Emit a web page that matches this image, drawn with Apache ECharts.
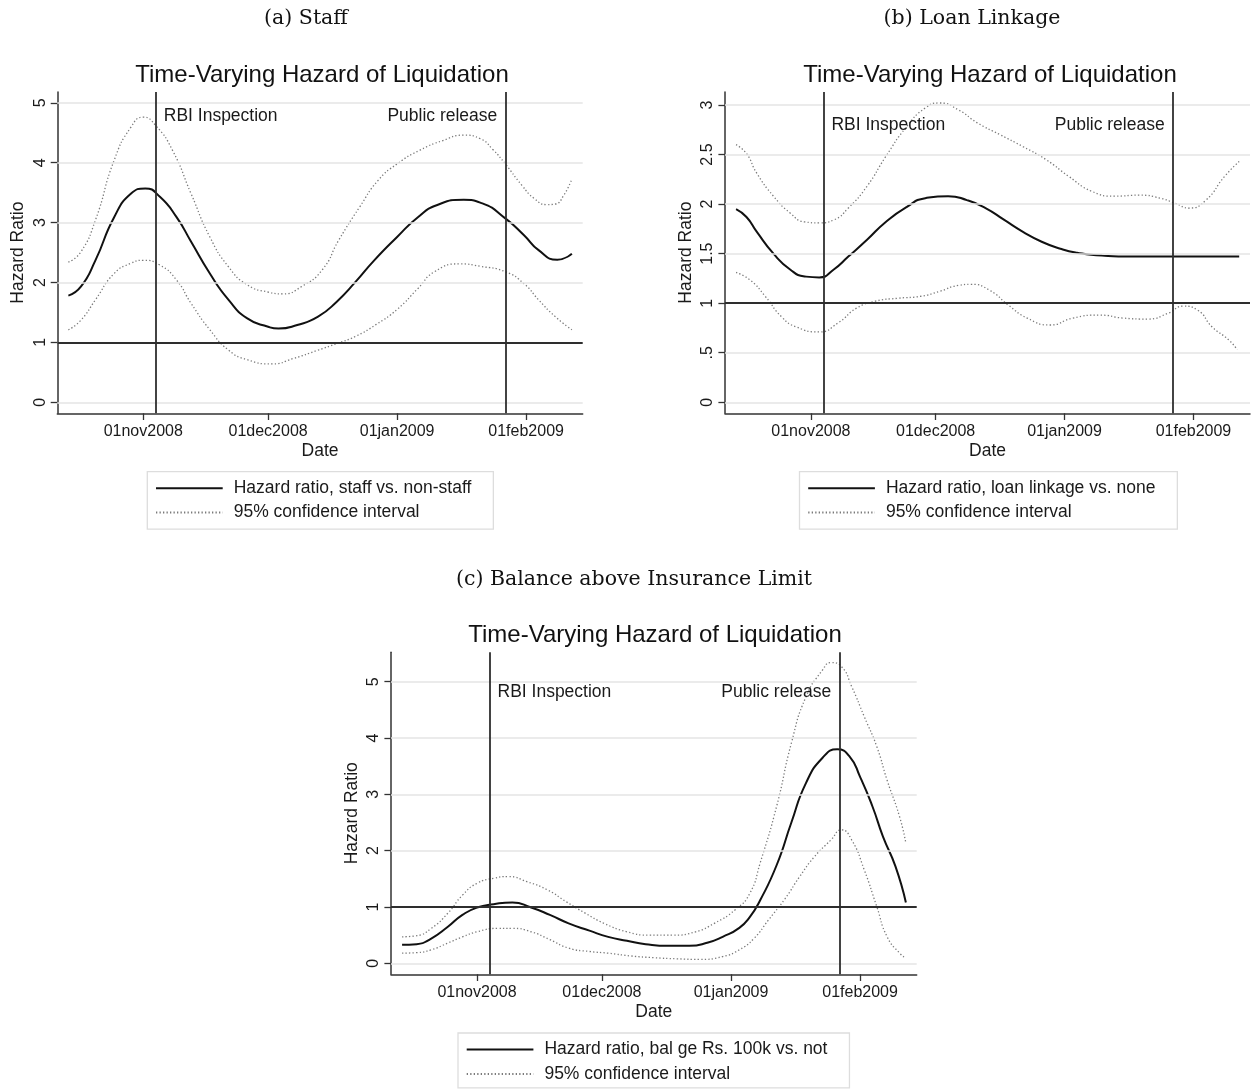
<!DOCTYPE html>
<html>
<head>
<meta charset="utf-8">
<script src="https://cdn.jsdelivr.net/npm/echarts@6/dist/echarts.min.js"></script>
<style>
html,body{margin:0;padding:0;background:#ffffff;}
#chart{width:1254px;height:1090px;}
</style>
</head>
<body>
<div id="chart"></div>
<script>
// ---------------- data ----------------
const panelTitles = ["(a) Staff", "(b) Loan Linkage", "(c) Balance above Insurance Limit"];
const chartTitle = "Time-Varying Hazard of Liquidation";
const xAxisTitle = "Date";
const yAxisTitle = "Hazard Ratio";
const xTickDates = ["2008-11-01", "2008-12-01", "2009-01-01", "2009-02-01"];
const eventDates = ["2008-11-04", "2009-01-27"];
const eventLabels = ["RBI Inspection", "Public release"];
const referenceLevel = 1;
const yTicksA = [0, 1, 2, 3, 4, 5];
const yTicksB = [0, 0.5, 1, 1.5, 2, 2.5, 3];
const yTicksC = [0, 1, 2, 3, 4, 5];
const hazardNames = [
  "Hazard ratio, staff vs. non-staff",
  "Hazard ratio, loan linkage vs. none",
  "Hazard ratio, bal ge Rs. 100k vs. not"
];
const ciName = "95% confidence interval";

// (a) Staff
const staffHR = [
  ["2008-10-14",1.78],["2008-10-17",1.93],["2008-10-20T12",2.37],["2008-10-25",3.09],
  ["2008-10-29",3.48],["2008-11-01T12",3.57],["2008-11-05",3.43],["2008-11-09",3.09],
  ["2008-11-12T12",2.68],["2008-11-17",2.15],["2008-11-21T12",1.71],["2008-11-26",1.40],
  ["2008-12-01",1.26],["2008-12-03T12",1.23],["2008-12-08",1.29],["2008-12-13",1.43],
  ["2008-12-17T12",1.68],["2008-12-22",2.01],["2008-12-26T12",2.37],["2009-01-01",2.76],
  ["2009-01-06",3.09],["2009-01-10T12",3.29],["2009-01-17",3.38],["2009-01-21T12",3.32],
  ["2009-01-27",3.07],["2009-01-31T12",2.79],["2009-02-04",2.54],["2009-02-08T12",2.38],
  ["2009-02-12",2.48]
];
const staffUpper = [
  ["2008-10-14",2.34],["2008-10-17",2.51],["2008-10-20T12",3.04],["2008-10-25",4.04],
  ["2008-10-29",4.59],["2008-11-01",4.76],["2008-11-04",4.62],["2008-11-08",4.21],
  ["2008-11-12T12",3.48],["2008-11-17",2.76],["2008-11-21T12",2.26],["2008-11-26",1.96],
  ["2008-12-01",1.84],["2008-12-04T12",1.81],["2008-12-09",1.93],["2008-12-14",2.21],
  ["2008-12-18",2.71],["2008-12-23",3.26],["2008-12-27T12",3.71],["2009-01-01",3.98],
  ["2009-01-06T12",4.21],["2009-01-12",4.37],["2009-01-17",4.46],["2009-01-21",4.40],
  ["2009-01-24",4.22],["2009-01-27",3.98],["2009-01-31",3.62],["2009-02-03",3.40],
  ["2009-02-06",3.30],["2009-02-08",3.31],["2009-02-10",3.45],["2009-02-12",3.73]
];
const staffLower = [
  ["2008-10-14",1.21],["2008-10-17",1.37],["2008-10-20T12",1.71],["2008-10-25",2.15],
  ["2008-10-29",2.32],["2008-11-01",2.37],["2008-11-05",2.29],["2008-11-09",2.04],
  ["2008-11-12T12",1.65],["2008-11-17",1.21],["2008-11-21T12",0.87],["2008-11-26",0.71],
  ["2008-12-02",0.64],["2008-12-07",0.73],["2008-12-13",0.87],["2008-12-17T12",0.98],
  ["2008-12-22",1.10],["2008-12-27",1.30],["2009-01-01",1.55],["2009-01-06",1.90],
  ["2009-01-10",2.18],["2009-01-16",2.31],["2009-01-21",2.27],["2009-01-27",2.18],
  ["2009-01-31T12",1.98],["2009-02-04",1.71],["2009-02-08",1.43],["2009-02-12",1.21]
];

// (b) Loan linkage
const loanHR = [
  ["2008-10-14",1.95],["2008-10-16T12",1.87],["2008-10-19",1.72],["2008-10-23",1.50],
  ["2008-10-27",1.34],["2008-10-30T12",1.27],["2008-11-03",1.26],["2008-11-06T12",1.34],
  ["2008-11-10",1.47],["2008-11-14T12",1.64],["2008-11-19",1.82],["2008-11-24",1.97],
  ["2008-11-28T12",2.06],["2008-12-04",2.08],["2008-12-08T12",2.04],["2008-12-13",1.96],
  ["2008-12-17T12",1.84],["2008-12-22",1.72],["2008-12-26T12",1.62],["2008-12-31",1.55],
  ["2009-01-04",1.51],["2009-01-10",1.48],["2009-01-17",1.47],["2009-01-26",1.47],
  ["2009-02-04",1.47],["2009-02-12",1.47]
];
const loanUpper = [
  ["2008-10-14",2.60],["2008-10-16T12",2.51],["2008-10-19",2.31],["2008-10-23",2.08],
  ["2008-10-27",1.91],["2008-10-30T12",1.82],["2008-11-03",1.81],["2008-11-06T12",1.84],
  ["2008-11-10",1.96],["2008-11-14T12",2.18],["2008-11-19",2.48],["2008-11-24",2.78],
  ["2008-11-28T12",2.97],["2008-12-02",3.02],["2008-12-06T12",2.95],["2008-12-11",2.82],
  ["2008-12-16T12",2.70],["2008-12-22",2.58],["2008-12-27T12",2.45],["2009-01-02",2.28],
  ["2009-01-07T12",2.13],["2009-01-13",2.08],["2009-01-19",2.09],["2009-01-24",2.06],
  ["2009-01-27T12",2.01],["2009-01-31",1.96],["2009-02-04",2.04],["2009-02-08T12",2.28],
  ["2009-02-12",2.43]
];
const loanLower = [
  ["2008-10-14",1.31],["2008-10-17T12",1.23],["2008-10-21",1.07],["2008-10-25",0.86],
  ["2008-10-28T12",0.76],["2008-11-03",0.71],["2008-11-07T12",0.80],["2008-11-12",0.95],
  ["2008-11-16T12",1.02],["2008-11-22",1.05],["2008-11-27T12",1.07],["2008-12-02",1.12],
  ["2008-12-06T12",1.18],["2008-12-09T12",1.19],["2008-12-14",1.13],["2008-12-18T12",0.98],
  ["2008-12-23",0.85],["2008-12-28T12",0.78],["2009-01-03",0.85],["2009-01-09T12",0.88],
  ["2009-01-15",0.85],["2009-01-21",0.84],["2009-01-26",0.90],["2009-01-29T12",0.97],
  ["2009-02-02",0.93],["2009-02-05T12",0.76],["2009-02-09T12",0.63],["2009-02-11T12",0.53]
];

// (c) Balance above insurance limit
const balHR = [
  ["2008-10-14",0.33],["2008-10-17T12",0.34],["2008-10-21",0.44],["2008-10-25",0.65],
  ["2008-10-28T12",0.86],["2008-11-01",0.99],["2008-11-05",1.05],["2008-11-09T12",1.08],
  ["2008-11-14",0.99],["2008-11-18T12",0.86],["2008-11-23",0.71],["2008-11-28",0.58],
  ["2008-12-02T12",0.47],["2008-12-07",0.40],["2008-12-11T12",0.34],["2008-12-17",0.31],
  ["2008-12-22",0.31],["2008-12-26T12",0.37],["2008-12-30",0.47],["2009-01-03",0.63],
  ["2009-01-05T12",0.82],["2009-01-08",1.12],["2009-01-12",1.75],["2009-01-15T12",2.50],
  ["2009-01-19",3.20],["2009-01-23",3.65],["2009-01-26T12",3.80],["2009-01-29T12",3.67],
  ["2009-02-01",3.31],["2009-02-04",2.78],["2009-02-06T12",2.25],["2009-02-09T12",1.72],
  ["2009-02-12",1.08]
];
const balUpper = [
  ["2008-10-14",0.47],["2008-10-17T12",0.49],["2008-10-21",0.62],["2008-10-25",0.89],
  ["2008-10-28T12",1.21],["2008-11-01",1.42],["2008-11-05",1.51],["2008-11-08T12",1.54],
  ["2008-11-13",1.45],["2008-11-18",1.30],["2008-11-22T12",1.09],["2008-11-27",0.89],
  ["2008-12-01T12",0.71],["2008-12-07",0.56],["2008-12-12T12",0.50],["2008-12-18",0.50],
  ["2008-12-23T12",0.56],["2008-12-28",0.71],["2009-01-02",0.95],["2009-01-05T12",1.24],
  ["2009-01-08",1.78],["2009-01-12",2.80],["2009-01-15T12",3.91],["2009-01-19",4.73],
  ["2009-01-23",5.21],["2009-01-25",5.34],["2009-01-27T12",5.27],["2009-01-30",4.91],
  ["2009-02-02",4.38],["2009-02-05",3.85],["2009-02-07T12",3.25],["2009-02-10T12",2.60],
  ["2009-02-12",2.13]
];
const balLower = [
  ["2008-10-14",0.18],["2008-10-17T12",0.19],["2008-10-21",0.24],["2008-10-25",0.36],
  ["2008-10-28T12",0.47],["2008-11-01",0.56],["2008-11-06",0.62],["2008-11-09T12",0.62],
  ["2008-11-14",0.56],["2008-11-18T12",0.42],["2008-11-23",0.27],["2008-11-28",0.21],
  ["2008-12-02T12",0.18],["2008-12-08",0.13],["2008-12-13T12",0.10],["2008-12-19",0.08],
  ["2008-12-24T12",0.07],["2008-12-30",0.12],["2009-01-03",0.24],["2009-01-06T12",0.44],
  ["2009-01-10",0.77],["2009-01-14",1.15],["2009-01-17T12",1.54],["2009-01-21",1.89],
  ["2009-01-25",2.19],["2009-01-27T12",2.37],["2009-01-30",2.19],["2009-02-02",1.66],
  ["2009-02-05",1.01],["2009-02-07T12",0.47],["2009-02-10T12",0.18],["2009-02-12",0.09]
];

// ---------------- helpers ----------------
const DAY = 86400000;
function ts(s) {
  const parts = s.split("T");
  const [y, m, d] = parts[0].split("-").map(Number);
  const h = parts[1] ? Number(parts[1].split(":")[0]) : 0;
  return Date.UTC(y, m - 1, d, h);
}
const MONTHS = ["jan","feb","mar","apr","may","jun","jul","aug","sep","oct","nov","dec"];
function fmtDate(v) {
  const d = new Date(v);
  const dd = d.getUTCDate();
  return (dd < 10 ? "0" : "") + dd + MONTHS[d.getUTCMonth()] + d.getUTCFullYear();
}
function fmtNum(v) {
  if (v === 0) return "0";
  const s = String(v);
  return s.startsWith("0.") ? s.slice(1) : s;
}
const toSeries = arr => arr.map(p => [ts(p[0]), p[1]]);

const SANS = "'Liberation Sans', Arial, Helvetica, sans-serif";
const SERIF = "'DejaVu Serif', 'Liberation Serif', serif";
const AXIS_COLOR = "#333333";
const GRID_COLOR = "#e5e5e5";
const HR_COLOR = "#111111";
const CI_COLOR = "#7a7a7a";

const xMin = ts("2008-11-01") - 20.66 * DAY;
const xMax = ts("2009-02-01") + 13.6 * DAY;
const xTicks = xTickDates.map(ts);

// layout of the three panels (pixels)
const panels = [
  { left: 57.3, top: 92, width: 525.4, height: 321.3, yMin: -0.184, yMax: 5.18, yTicks: yTicksA,
    labelY: 4.77, hr: staffHR, up: staffUpper, lo: staffLower, name: hazardNames[0],
    titleX: 322, titleY: 75, subX: 306, subY: 19, legendLeft: 147.3, legendTop: 471.7, padB: 6.6 },
  { left: 725, top: 92, width: 525, height: 321.3, yMin: -0.111, yMax: 3.131, yTicks: yTicksB,
    labelY: 2.80, hr: loanHR, up: loanUpper, lo: loanLower, name: hazardNames[1],
    titleX: 990, titleY: 75, subX: 972, subY: 19, legendLeft: 799.5, legendTop: 471.7, padB: 6.6 },
  { left: 391, top: 652.3, width: 525.7, height: 322, yMin: -0.195, yMax: 5.522, yTicks: yTicksC,
    labelY: 4.82, hr: balHR, up: balUpper, lo: balLower, name: hazardNames[2],
    titleX: 655, titleY: 635, subX: 634, subY: 580, legendLeft: 458, legendTop: 1033, padB: 4 }
];

const grids = [], xAxes = [], yAxes = [], series = [], legends = [], graphics = [];

panels.forEach((p, i) => {
  grids.push({ left: p.left, top: p.top, width: p.width, height: p.height, containLabel: false, outerBoundsMode: "none" });
  xAxes.push({
    gridIndex: i, type: "value", min: xMin, max: xMax, position: "bottom",
    axisLine: { show: true, onZero: false, lineStyle: { color: AXIS_COLOR, width: 1.5 } },
    axisTick: { show: true, customValues: xTicks, length: 6.7, lineStyle: { color: AXIS_COLOR, width: 1.3 } },
    axisLabel: { customValues: xTicks, formatter: fmtDate, margin: 10, fontSize: 16, fontFamily: SANS, color: "#1a1a1a" },
    splitLine: { show: false },
    name: xAxisTitle, nameLocation: "middle", nameGap: 29,
    nameTextStyle: { fontSize: 17.5, fontFamily: SANS, color: "#1a1a1a" }
  });
  yAxes.push({
    gridIndex: i, type: "value", min: p.yMin, max: p.yMax, position: "left",
    axisLine: { show: true, onZero: false, lineStyle: { color: AXIS_COLOR, width: 1.5 } },
    axisTick: { show: true, customValues: p.yTicks, length: 6.6, lineStyle: { color: AXIS_COLOR, width: 1.3 } },
    axisLabel: { customValues: p.yTicks, formatter: fmtNum, rotate: 90, margin: 9, fontSize: 16, fontFamily: SANS, color: "#1a1a1a" },
    splitLine: { show: false },
    name: yAxisTitle, nameLocation: "middle", nameGap: 30, nameRotate: 90,
    nameTextStyle: { fontSize: 17.5, fontFamily: SANS, color: "#1a1a1a" }
  });

  // gridlines
  series.push({
    type: "line", xAxisIndex: i, yAxisIndex: i, data: [], silent: true, z: 1,
    markLine: {
      silent: true, symbol: "none", animation: false, label: { show: false },
      data: p.yTicks.map(v => ({ yAxis: v, lineStyle: { color: GRID_COLOR, width: 1.6, type: "solid" } }))
    }
  });
  // confidence interval
  [p.up, p.lo].forEach(arr => {
    series.push({
      type: "line", name: ciName, xAxisIndex: i, yAxisIndex: i, data: toSeries(arr),
      smooth: 0.55, symbol: "none", z: 2,
      itemStyle: { color: CI_COLOR },
      lineStyle: { color: CI_COLOR, width: 1.3, type: [1.3, 2.2] }
    });
  });
  // hazard ratio
  series.push({
    type: "line", name: p.name, xAxisIndex: i, yAxisIndex: i, data: toSeries(p.hr),
    smooth: 0.55, symbol: "none", z: 3,
    itemStyle: { color: HR_COLOR },
    lineStyle: { color: HR_COLOR, width: 2 }
  });
  // reference line at 1 and event lines with labels
  series.push({
    type: "line", xAxisIndex: i, yAxisIndex: i, data: [], silent: true, z: 4,
    markLine: {
      silent: true, symbol: "none", animation: false, label: { show: false },
      lineStyle: { color: "#2e2e2e", width: 1.8, type: "solid" },
      data: [{ yAxis: referenceLevel }].concat(eventDates.map(d => ({ xAxis: ts(d) })))
    },
    markPoint: {
      silent: true, animation: false, symbol: "circle", symbolSize: 0,
      data: eventDates.map((d, k) => ({
        coord: [ts(d), p.labelY],
        label: {
          show: true, formatter: eventLabels[k], position: k === 0 ? "right" : "left", distance: 8,
          fontSize: 17.5, fontFamily: SANS, color: "#1a1a1a"
        }
      }))
    }
  });

  legends.push({
    data: [p.name, ciName], orient: "vertical", left: p.legendLeft, top: p.legendTop,
    itemWidth: 66.7, itemHeight: 12, itemGap: 4.3,
    padding: [6.6, 22, p.padB, 7.7],
    borderColor: "#dddddd", borderWidth: 1.3, backgroundColor: "#ffffff",
    selectedMode: false,
    itemStyle: { opacity: 0, borderWidth: 0 },
    textStyle: { fontSize: 17.5, fontFamily: SANS, color: "#1a1a1a", lineHeight: 20, padding: [0, 0, 0, 6] }
  });

  graphics.push({
    type: "text", x: p.titleX, y: p.titleY, silent: true,
    style: { text: chartTitle, fill: "#111111", font: "24px " + SANS, align: "center", verticalAlign: "middle" }
  });
  graphics.push({
    type: "text", x: p.subX, y: p.subY, silent: true,
    style: { text: panelTitles[i], fill: "#111111", font: "20.5px " + SERIF, align: "center", verticalAlign: "middle" }
  });
});

const chart = echarts.init(document.getElementById("chart"), null, { renderer: "canvas" });
chart.setOption({
  animation: false,
  backgroundColor: "#ffffff",
  grid: grids,
  xAxis: xAxes,
  yAxis: yAxes,
  legend: legends,
  series: series,
  graphic: { elements: graphics }
});
</script>
</body>
</html>
